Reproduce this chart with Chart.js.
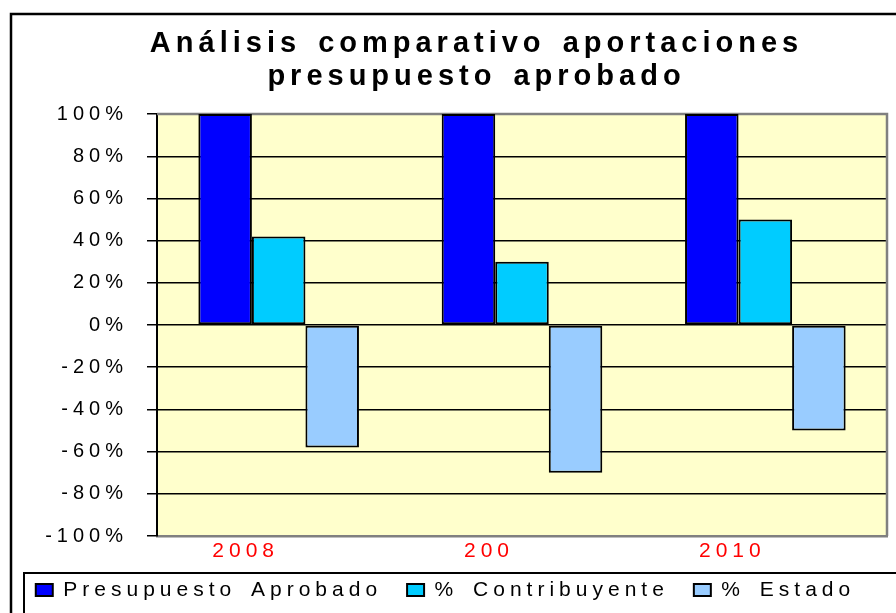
<!DOCTYPE html>
<html>
<head>
<meta charset="utf-8">
<script src="https://cdn.jsdelivr.net/npm/chart.js@4.4.1/dist/chart.umd.min.js"></script>
<style>
  body { margin: 0; background: #fff; }
  #wrap { width: 896px; height: 613px; }
</style>
</head>
<body>
<div id="wrap"><canvas id="chart" width="896" height="613"></canvas></div>
<script>
// chart values
const categories = ['2008', '200', '2010'];
const presupuesto = [100, 100, 100];
const contribuyente = [42, 30, 50];
const estado = [-58, -70, -50];
const yTickValues = [-100, -80, -60, -40, -20, 0, 20, 40, 60, 80, 100];
const seriesNames = ['Presupuesto Aprobado', '% Contribuyente', '% Estado'];
const titleLines = ['Análisis comparativo aportaciones', 'presupuesto aprobado'];

const FONT = '"Liberation Sans", Arial, sans-serif';

// Excel-like wide text spacing
function setSpacing(ctx) {
    ctx.letterSpacing = '5px';
    ctx.wordSpacing = '4px';
}

const decor = {
    id: 'decor',
    beforeLayout(chart) { setSpacing(chart.ctx); },
    afterLayout(chart) {
        chart.titleBlock.left += 66;
        // legend sits inside its frame, a bit over the x label strip
        chart.legend.left += 2;
        chart.legend.right += 2;
        chart.legend.top -= 15.5;
        chart.legend.bottom -= 15.5;
    },
    beforeDraw(chart) {
        const ctx = chart.ctx;
        const a = chart.chartArea;
        setSpacing(ctx);
        ctx.save();
        ctx.fillStyle = '#fff';
        ctx.fillRect(0, 0, chart.width, chart.height);
        ctx.fillStyle = '#FFFFCC';
        ctx.fillRect(a.left, a.top, a.right - a.left, a.bottom - a.top);
        ctx.restore();
    },
    beforeDatasetsDraw(chart) {
        const ctx = chart.ctx;
        const a = chart.chartArea;
        ctx.save();
        ctx.strokeStyle = '#808080';
        ctx.lineWidth = 2.5;
        ctx.beginPath();
        ctx.moveTo(a.left, a.top);
        ctx.lineTo(a.right, a.top);
        ctx.lineTo(a.right, a.bottom);
        ctx.stroke();
        ctx.restore();
    },
    afterDraw(chart) {
        const ctx = chart.ctx;
        ctx.save();
        ctx.strokeStyle = '#000';
        ctx.lineWidth = 2.5;
        // outer chart frame
        ctx.strokeRect(11, 14, chart.width + 40, chart.height + 40);
        // legend frame
        ctx.lineWidth = 2;
        ctx.strokeRect(24, 573, chart.width + 40, 100);
        ctx.restore();
    }
};

const ctx = document.getElementById('chart').getContext('2d');
new Chart(ctx, {
    type: 'bar',
    data: {
        labels: categories,
        datasets: [
            { label: seriesNames[0], data: presupuesto, backgroundColor: '#0000FF' },
            { label: seriesNames[1], data: contribuyente, backgroundColor: '#00CCFF' },
            { label: seriesNames[2], data: estado, backgroundColor: '#99CCFF' }
        ].map(d => Object.assign(d, {
            borderColor: '#000',
            borderWidth: 2,
            borderSkipped: false,
            categoryPercentage: 0.66,
            barPercentage: 1
        }))
    },
    options: {
        responsive: false,
        animation: false,
        devicePixelRatio: 1,
        layout: { padding: { left: 0, right: 9, top: 0, bottom: -13 } },
        plugins: {
            title: {
                display: true,
                text: titleLines,
                color: '#000',
                font: { family: FONT, size: 29, weight: 'bold', lineHeight: 1.14 },
                padding: { top: 27.5, bottom: 20.5 }
            },
            legend: {
                position: 'bottom',
                labels: {
                    color: '#000',
                    font: { family: FONT, size: 21 },
                    boxWidth: 17,
                    boxHeight: 12,
                    padding: 25
                }
            },
            tooltip: { enabled: false }
        },
        scales: {
            x: {
                grid: { display: false, drawTicks: false },
                border: { display: true, color: '#808080', width: 2.5 },
                ticks: {
                    color: '#FF0000',
                    font: { family: FONT, size: 21 },
                    padding: 3,
                    labelOffset: -33
                },
                afterFit: s => { s.height = 34; }
            },
            y: {
                min: -100,
                max: 100,
                afterBuildTicks: s => { s.ticks = yTickValues.map(v => ({ value: v })); },
                grid: { color: '#000', lineWidth: 1.5, tickLength: 10, tickColor: '#000' },
                border: { display: true, color: '#000', width: 2 },
                ticks: {
                    color: '#000',
                    font: { family: FONT, size: 20 },
                    padding: 19,
                    callback: v => v + '%'
                },
                afterFit: s => { s.width = 157; }
            }
        }
    },
    plugins: [decor]
});
</script>
</body>
</html>
